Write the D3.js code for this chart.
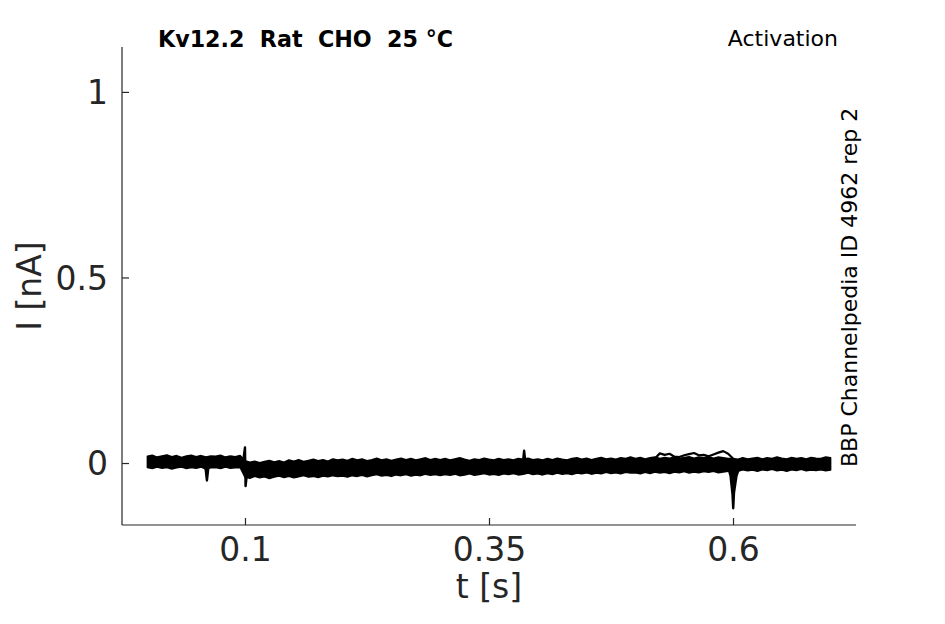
<!DOCTYPE html>
<html>
<head>
<meta charset="utf-8">
<script src="https://cdn.jsdelivr.net/npm/d3@7"></script>
<style>
  html, body { margin: 0; padding: 0; background: #fff; }
  svg { display: block; }
</style>
</head>
<body>
<svg id="chart" width="945" height="624"></svg>
<script>
// ---------------- data ----------------
const title = "Kv12.2  Rat  CHO  25 °C";
const protocol = "Activation";
const sideNote = "BBP Channelpedia ID 4962 rep 2";
const xLabel = "t [s]";
const yLabel = "I [nA]";
const xTicks = [0.1, 0.35, 0.6];
const yTicks = [0, 0.5, 1];
const xDomain = [-0.026, 0.726];
const yDomain = [-0.167, 1.121];

// overlaid noisy current sweeps, drawn as their upper / lower envelope (nA),
// sampled every 5 ms from t = 0 to t = 0.70 s
const bandStart = 0;
const bandStep = 0.005;
const bandUpper = [
  0.018,0.021,0.016,0.019,0.022,0.017,0.020,0.015,0.019,0.021,0.017,0.020,0.016,0.019,0.018,0.021,0.016,0.019,0.017,0.020,
  0.006,0.002,0.005,0.001,0.004,0.007,0.003,0.006,0.002,0.008,0.005,0.009,0.004,0.007,0.010,0.006,0.009,0.005,0.011,0.008,
  0.010,0.007,0.012,0.008,0.011,0.006,0.009,0.013,0.008,0.011,0.007,0.010,0.013,0.009,0.012,0.008,0.011,0.014,0.009,0.012,
  0.009,0.012,0.008,0.011,0.014,0.010,0.007,0.011,0.009,0.013,0.010,0.008,0.012,0.009,0.011,0.008,0.012,0.010,0.013,0.009,
  0.011,0.008,0.012,0.009,0.013,0.010,0.008,0.012,0.014,0.010,0.013,0.009,0.012,0.015,0.011,0.013,0.010,0.014,0.012,0.016,
  0.012,0.015,0.011,0.014,0.016,0.012,0.015,0.013,0.016,0.012,0.015,0.017,0.013,0.016,0.014,0.017,0.013,0.016,0.014,0.012,
  0.012,0.010,0.014,0.011,0.013,0.015,0.011,0.014,0.012,0.016,0.013,0.011,0.015,0.012,0.014,0.011,0.015,0.013,0.012,0.016,0.014];
const bandLower = [
  -0.012,-0.015,-0.011,-0.014,-0.012,-0.016,-0.013,-0.011,-0.015,-0.012,-0.014,-0.011,-0.016,-0.013,-0.012,-0.015,-0.011,-0.014,-0.013,-0.012,
  -0.038,-0.041,-0.036,-0.040,-0.037,-0.042,-0.038,-0.035,-0.039,-0.036,-0.040,-0.037,-0.034,-0.038,-0.036,-0.039,-0.035,-0.037,-0.034,-0.036,
  -0.035,-0.038,-0.034,-0.036,-0.033,-0.037,-0.034,-0.031,-0.035,-0.033,-0.036,-0.032,-0.034,-0.031,-0.035,-0.032,-0.034,-0.030,-0.033,-0.031,
  -0.034,-0.031,-0.033,-0.030,-0.034,-0.032,-0.029,-0.033,-0.031,-0.028,-0.032,-0.030,-0.033,-0.029,-0.031,-0.028,-0.032,-0.030,-0.027,-0.031,
  -0.029,-0.032,-0.028,-0.031,-0.027,-0.030,-0.028,-0.031,-0.027,-0.029,-0.026,-0.030,-0.027,-0.029,-0.025,-0.028,-0.026,-0.029,-0.025,-0.027,
  -0.026,-0.029,-0.025,-0.028,-0.024,-0.027,-0.025,-0.028,-0.024,-0.026,-0.023,-0.027,-0.024,-0.026,-0.023,-0.025,-0.022,-0.026,-0.024,-0.022,
  -0.020,-0.022,-0.018,-0.021,-0.019,-0.022,-0.018,-0.020,-0.017,-0.021,-0.019,-0.022,-0.018,-0.020,-0.017,-0.021,-0.019,-0.020,-0.018,-0.021,-0.019];

// one sweep wandering above the band between 0.52 s and 0.60 s (5 ms steps)
const excursionStart = 0.52;
const excursionValues = [0.012,0.026,0.022,0.025,0.017,0.016,0.021,0.024,0.027,0.021,0.022,0.018,0.023,0.028,0.032,0.025,0.012];

// transient artefacts: id, time (s), value (nA)
const spikeId = [1,1,1, 2,2,2,2, 3,3,3, 4,4,4,4,4,4,4];
const spikeT  = [0.0595,0.0610,0.0625, 0.0985,0.1000,0.1006,0.1020, 0.3850,0.3860,0.3870,
                 0.5950,0.5975,0.5995,0.6002,0.6010,0.6035,0.6060];
const spikeV  = [-0.012,-0.047,-0.012, 0.012,0.042,-0.062,-0.030, 0.008,0.033,0.008,
                 -0.012,-0.035,-0.085,-0.122,-0.080,-0.035,-0.015];

// ---------------- drawing ----------------
(function draw() {
  const svg = d3.select("#chart");
  const pL = 122, pR = 856, pT = 47, pB = 525;
  const ink = "#262626";
  const font = "DejaVu Sans, sans-serif";

  const x = d3.scaleLinear().domain(xDomain).range([pL, pR]);
  const y = d3.scaleLinear().domain(yDomain).range([pB, pT]);

  const band = bandUpper.map((u, i) => ({t: bandStart + i * bandStep, u: u, l: bandLower[i]}));
  const excursion = excursionValues.map((v, i) => [excursionStart + i * bandStep, v]);
  const spikes = d3.groups(spikeT.map((t, i) => ({id: spikeId[i], t: t, v: spikeV[i]})), d => d.id)
    .map(g => g[1].map(d => [d.t, d.v]));

  svg.append("clipPath").attr("id", "plotclip")
    .append("rect").attr("x", pL).attr("y", pT).attr("width", pR - pL).attr("height", pB - pT);
  const plot = svg.append("g").attr("clip-path", "url(#plotclip)");

  const area = d3.area().x(d => x(d.t)).y0(d => y(d.l)).y1(d => y(d.u));
  plot.append("path").datum(band)
    .attr("d", area)
    .attr("fill", "#000")
    .attr("stroke", "#000")
    .attr("stroke-width", 1.5)
    .attr("stroke-linejoin", "round");

  const line = d3.line().x(d => x(d[0])).y(d => y(d[1]));
  plot.append("path").datum(excursion)
    .attr("d", line).attr("fill", "none").attr("stroke", "#000")
    .attr("stroke-width", 2.2).attr("stroke-linejoin", "round");
  plot.selectAll("path.spike").data(spikes).join("path")
    .attr("class", "spike")
    .attr("d", line).attr("fill", "#000").attr("stroke", "#000")
    .attr("stroke-width", 2.4).attr("stroke-linejoin", "round");

  const xAxis = d3.axisBottom(x).tickValues(xTicks).tickSize(-7).tickPadding(13)
    .tickFormat(d => String(d));
  const yAxis = d3.axisLeft(y).tickValues(yTicks).tickSize(-7).tickPadding(14)
    .tickFormat(d => String(d));

  const gx = svg.append("g").attr("transform", `translate(0,${pB})`).call(xAxis);
  const gy = svg.append("g").attr("transform", `translate(${pL},0)`).call(yAxis);
  [gx, gy].forEach(g => {
    g.select(".domain").remove();
    g.selectAll(".tick line").attr("stroke", ink).attr("stroke-width", 1.2);
    g.selectAll(".tick text").attr("fill", ink).attr("font-family", font).attr("font-size", 33);
  });
  gx.selectAll(".tick text").attr("dy", "0.71em");
  gy.selectAll(".tick text").attr("dy", "0.36em");

  svg.append("line").attr("x1", pL).attr("x2", pR).attr("y1", pB).attr("y2", pB)
    .attr("stroke", ink).attr("stroke-width", 1.2);
  svg.append("line").attr("x1", pL).attr("x2", pL).attr("y1", pT).attr("y2", pB)
    .attr("stroke", ink).attr("stroke-width", 1.2);

  svg.append("text").attr("x", (pL + pR) / 2).attr("y", 598)
    .attr("text-anchor", "middle").attr("font-family", font).attr("font-size", 33).attr("fill", ink)
    .text(xLabel);
  svg.append("text").attr("transform", `translate(41,${(pT + pB) / 2}) rotate(-90)`)
    .attr("text-anchor", "middle").attr("font-family", font).attr("font-size", 33).attr("fill", ink)
    .text(yLabel);

  svg.append("text").attr("x", 158).attr("y", 47)
    .attr("font-family", font).attr("font-size", 22.2).attr("font-weight", "bold").attr("fill", "#000")
    .style("white-space", "pre")
    .text(title);
  svg.append("text").attr("x", 838).attr("y", 46).attr("text-anchor", "end")
    .attr("font-family", font).attr("font-size", 22).attr("fill", "#000")
    .text(protocol);
  svg.append("text").attr("transform", "translate(857,467) rotate(-90)")
    .attr("text-anchor", "start").attr("font-family", font).attr("font-size", 22).attr("fill", "#000")
    .text(sideNote);
})();
</script>
</body>
</html>
